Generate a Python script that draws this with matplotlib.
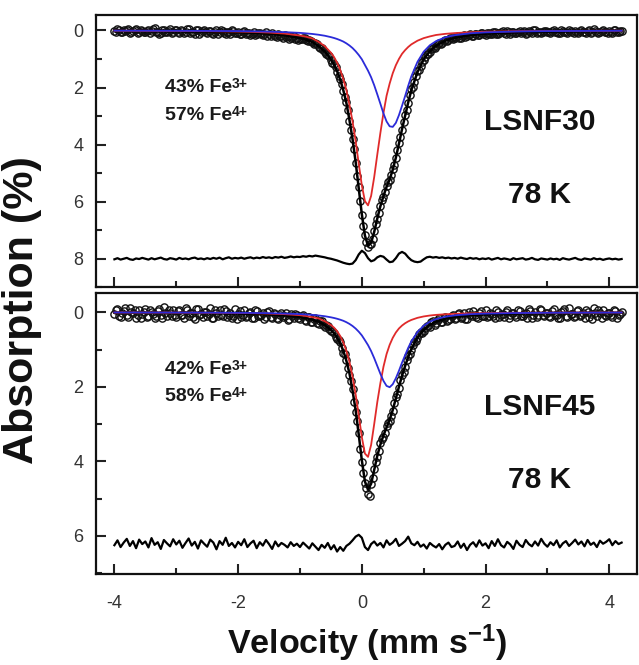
import matplotlib
matplotlib.use('Agg')
import matplotlib.pyplot as plt
import numpy as np
from matplotlib.ticker import MultipleLocator

plt.rcParams['font.family'] = ['Liberation Sans', 'DejaVu Sans']
plt.rcParams['mathtext.fontset'] = 'custom'
plt.rcParams['mathtext.rm'] = 'Liberation Sans:bold'
plt.rcParams['mathtext.it'] = 'Liberation Sans:bold'
plt.rcParams['mathtext.bf'] = 'Liberation Sans:bold'
plt.rcParams['axes.unicode_minus'] = False

# velocity channels of the measured spectra (mm/s): even channels and the ones in between
velocity = np.round(-4.0 + 0.05 * np.arange(165), 3)
velocity_mid = np.round(-3.975 + 0.05 * np.arange(164), 3)

# velocities at which the fitted curves were read
v_fit = [-4.0, -3.0, -2.5, -2.0, -1.75, -1.5, -1.25, -1.0, -0.9, -0.8, -0.7, -0.6, -0.5,
         -0.45, -0.4, -0.35, -0.3, -0.25, -0.2, -0.15, -0.1, -0.05, 0.0, 0.05, 0.1, 0.15,
         0.2, 0.25, 0.3, 0.35, 0.4, 0.45, 0.5, 0.55, 0.6, 0.65, 0.7, 0.75, 0.8, 0.9, 1.0,
         1.1, 1.2, 1.35, 1.5, 1.75, 2.0, 2.5, 3.0, 4.2]

# ---- LSNF30 ----
obs_30 = [0.02, -0.05, 0.06, 0.00, -0.03, 0.08, 0.03, -0.06, 0.04, 0.01,
          0.07, -0.02, 0.03, -0.07, 0.05, 0.10, -0.01, 0.04, -0.04, 0.06,
          -0.03, 0.09, 0.02, 0.06, -0.05, 0.04, 0.12, 0.00, 0.05, -0.02,
          0.08, 0.01, 0.11, -0.02, 0.06, 0.03, 0.13, 0.04, -0.01, 0.09,
          0.06, 0.12, 0.02, 0.09, 0.15, 0.05, 0.11, 0.08, 0.16, 0.07,
          0.14, 0.09, 0.18, 0.12, 0.21, 0.15, 0.19, 0.26, 0.20, 0.27,
          0.29, 0.26, 0.35, 0.33, 0.42, 0.45, 0.58, 0.61, 0.76, 0.85,
          1.04, 1.17, 1.46, 1.70, 2.12, 2.52, 3.16, 3.79, 4.64, 5.50,
          6.46, 7.16, 7.58, 7.47, 7.03, 6.61, 6.14, 5.83, 5.45, 5.25,
          4.85, 4.48, 3.94, 3.49, 2.96, 2.55, 2.07, 1.81, 1.43, 1.26,
          1.03, 0.84, 0.75, 0.60, 0.55, 0.44, 0.43, 0.33, 0.35, 0.26,
          0.28, 0.20, 0.25, 0.17, 0.21, 0.13, 0.19, 0.11, 0.16, 0.10,
          0.15, 0.08, 0.12, 0.04, 0.14, 0.07, 0.10, 0.02, 0.11, 0.06,
          0.09, 0.01, 0.07, 0.11, 0.03, 0.08, -0.01, 0.06, 0.10, 0.02,
          0.05, 0.09, -0.02, 0.04, 0.08, 0.01, 0.07, -0.03, 0.06, 0.03,
          0.08, -0.01, 0.05, 0.02, 0.09, -0.04, 0.04, 0.07, 0.00, 0.06,
          0.03, 0.08, -0.02, 0.05, 0.01]
obs_30_mid = [0.05, -0.02, 0.07, 0.01, -0.04, 0.06, 0.00, 0.09, -0.03, 0.04,
              0.02, 0.08, -0.05, 0.05, 0.11, -0.01, 0.07, 0.03, 0.09, -0.02,
              0.06, 0.00, 0.10, -0.04, 0.08, 0.05, -0.02, 0.11, 0.03, 0.07,
              0.02, 0.10, 0.05, 0.13, -0.01, 0.09, 0.06, 0.12, 0.03, 0.08,
              0.11, 0.05, 0.14, 0.08, 0.12, 0.17, 0.09, 0.14, 0.12, 0.18,
              0.19, 0.16, 0.22, 0.19, 0.25, 0.22, 0.29, 0.24, 0.31, 0.35,
              0.30, 0.28, 0.37, 0.36, 0.46, 0.49, 0.62, 0.67, 0.82, 0.91,
              1.13, 1.28, 1.60, 1.87, 2.34, 2.80, 3.50, 4.17, 5.10, 5.96,
              6.87, 7.43, 7.50, 7.30, 6.80, 6.40, 5.95, 5.66, 5.32, 5.08,
              4.71, 4.19, 3.75, 3.20, 2.79, 2.28, 1.97, 1.59, 1.37, 1.09,
              0.92, 0.83, 0.65, 0.61, 0.48, 0.47, 0.36, 0.37, 0.28, 0.30,
              0.22, 0.26, 0.18, 0.22, 0.15, 0.19, 0.13, 0.16, 0.09, 0.14,
              0.10, 0.13, 0.06, 0.11, 0.09, 0.03, 0.12, 0.07, 0.05, 0.10,
              0.04, 0.08, 0.02, 0.09, 0.06, 0.00, 0.08, 0.04, 0.07, 0.01,
              0.07, 0.02, 0.06, 0.10, 0.00, 0.05, 0.08, 0.02, 0.09, 0.04,
              0.01, 0.06, 0.09, -0.02, 0.07, 0.03, 0.08, 0.01, 0.05, 0.09,
              0.06, 0.00, 0.07, 0.03]
resid_30 = [8.02, 7.98, 8.03, 8.00, 7.97, 8.02, 8.04, 7.99, 8.01, 7.97,
            8.00, 8.03, 7.98, 8.02, 7.99, 7.96, 8.01, 8.03, 7.98, 8.00,
            8.03, 7.97, 8.01, 7.99, 8.02, 7.98, 7.96, 8.01, 7.99, 8.02,
            7.98, 8.01, 7.97, 8.00, 7.96, 8.02, 7.98, 7.95, 8.00, 7.97,
            7.99, 7.96, 8.00, 7.97, 7.95, 7.99, 7.96, 7.98, 7.94, 7.97,
            7.95, 7.98, 7.94, 7.96, 7.93, 7.97, 7.95, 7.92, 7.95, 7.93,
            7.94, 7.91, 7.93, 7.90, 7.92, 7.89, 7.91, 7.93, 7.95, 7.98,
            8.00, 8.03, 8.06, 8.10, 8.14, 8.17, 8.19, 8.17, 8.05, 7.85,
            7.72, 7.80, 7.98, 8.09, 8.05, 7.95, 7.90, 7.93, 8.03, 8.12,
            8.10, 7.98, 7.82, 7.76, 7.82, 7.95, 8.05, 8.10, 8.12, 8.10,
            8.02, 7.95, 7.93, 7.96, 7.94, 7.97, 7.95, 7.98, 7.96, 7.99,
            7.97, 8.00, 7.96, 7.99, 8.01, 7.97, 8.00, 7.98, 8.02, 7.99,
            8.01, 7.98, 8.03, 8.00, 7.97, 8.02, 7.99, 8.01, 8.04, 7.98,
            8.02, 8.00, 7.98, 8.03, 8.01, 7.97, 8.02, 8.04, 7.99, 8.01,
            8.03, 7.99, 8.02, 8.00, 8.04, 7.98, 8.01, 8.03, 8.00, 7.97,
            8.02, 8.04, 7.99, 8.01, 8.03, 7.98, 8.02, 8.00, 8.04, 8.01,
            7.99, 8.02, 8.00, 8.03, 8.01]
red_30 = [0.010, 0.018, 0.026, 0.039, 0.052, 0.074, 0.11, 0.18, 0.22, 0.28, 0.40, 0.55,
          0.78, 0.93, 1.13, 1.38, 1.70, 2.09, 2.61, 3.19, 3.88, 4.67, 5.43, 5.98, 6.13,
          5.80, 5.14, 4.35, 3.59, 2.89, 2.29, 1.86, 1.50, 1.22, 1.00, 0.82, 0.69, 0.58,
          0.49, 0.36, 0.27, 0.21, 0.16, 0.12, 0.094, 0.064, 0.046, 0.029, 0.020, 0.010]
blue_30 = [0.008, 0.013, 0.017, 0.025, 0.032, 0.043, 0.060, 0.086, 0.104, 0.124, 0.151,
           0.186, 0.235, 0.265, 0.30, 0.342, 0.39, 0.453, 0.528, 0.618, 0.73, 0.86, 1.01,
           1.21, 1.41, 1.64, 1.92, 2.24, 2.57, 2.91, 3.19, 3.36, 3.38, 3.24, 2.97, 2.64,
           2.30, 1.94, 1.61, 1.10, 0.745, 0.52, 0.375, 0.24, 0.167, 0.101, 0.068, 0.037,
           0.024, 0.011]
total_30 = [0.018, 0.031, 0.043, 0.064, 0.084, 0.117, 0.17, 0.266, 0.324, 0.404, 0.551,
            0.736, 1.015, 1.195, 1.43, 1.72, 2.09, 2.54, 3.14, 3.81, 4.61, 5.53, 6.44,
            7.19, 7.54, 7.44, 7.06, 6.59, 6.16, 5.80, 5.48, 5.22, 4.88, 4.46, 3.97, 3.46,
            2.99, 2.52, 2.10, 1.46, 1.015, 0.73, 0.535, 0.36, 0.261, 0.165, 0.114, 0.066,
            0.044, 0.021]

# ---- LSNF45 ----
obs_45 = [0.05, -0.10, 0.12, -0.03, 0.08, -0.12, 0.02, 0.14, -0.06, 0.04,
          -0.09, 0.11, 0.00, 0.16, -0.04, 0.07, -0.13, 0.09, 0.03, -0.07,
          0.13, -0.05, 0.06, -0.11, 0.10, 0.01, 0.17, -0.08, 0.05, -0.02,
          0.09, -0.12, 0.14, 0.02, -0.06, 0.11, -0.03, 0.07, 0.15, -0.09,
          0.04, 0.12, -0.07, 0.09, 0.00, 0.16, -0.04, 0.10, 0.03, 0.13,
          -0.03, 0.14, 0.05, 0.18, 0.01, 0.11, 0.20, 0.04, 0.15, 0.08,
          0.17, 0.06, 0.22, 0.13, 0.26, 0.15, 0.31, 0.24, 0.40, 0.36,
          0.50, 0.55, 0.72, 0.80, 1.08, 1.27, 1.69, 2.06, 2.68, 3.25,
          4.01, 4.58, 4.88, 4.62, 4.20, 3.88, 3.52, 3.34, 3.06, 2.91,
          2.65, 2.28, 2.03, 1.68, 1.47, 1.17, 1.02, 0.80, 0.70, 0.54,
          0.51, 0.36, 0.39, 0.24, 0.30, 0.16, 0.25, 0.12, 0.21, 0.09,
          0.18, 0.05, 0.15, 0.02, 0.19, 0.08, -0.04, 0.13, 0.03, 0.11,
          -0.06, 0.10, 0.04, 0.16, -0.02, 0.08, 0.13, -0.07, 0.06, 0.01,
          0.12, -0.04, 0.09, 0.03, -0.10, 0.14, 0.00, 0.07, -0.05, 0.11,
          0.02, 0.13, -0.08, 0.06, 0.15, -0.03, 0.09, -0.11, 0.04, 0.10,
          -0.05, 0.08, 0.14, -0.02, 0.05, -0.12, 0.11, 0.03, -0.07, 0.09,
          0.01, 0.12, -0.04, 0.07, -0.01]
obs_45_mid = [-0.06, 0.09, 0.03, -0.11, 0.13, 0.00, -0.07, 0.08, 0.15, -0.02,
              0.12, -0.06, 0.05, 0.10, -0.10, 0.14, 0.02, -0.05, 0.11, 0.06,
              -0.03, 0.08, 0.16, -0.07, 0.03, 0.12, -0.10, 0.06, 0.13, 0.00,
              0.05, 0.15, -0.05, 0.10, 0.07, -0.08, 0.12, 0.01, 0.09, 0.17,
              -0.04, 0.08, 0.13, 0.02, 0.14, -0.05, 0.11, 0.06, 0.17, 0.00,
              0.12, 0.03, 0.16, 0.07, 0.13, 0.02, 0.18, 0.09, 0.05, 0.16,
              0.09, 0.21, 0.12, 0.25, 0.17, 0.28, 0.22, 0.35, 0.33, 0.46,
              0.49, 0.66, 0.73, 0.97, 1.13, 1.50, 1.84, 2.40, 2.92, 3.66,
              4.30, 4.72, 4.93, 4.45, 4.01, 3.73, 3.40, 3.23, 2.96, 2.78,
              2.44, 2.19, 1.82, 1.60, 1.29, 1.12, 0.88, 0.78, 0.59, 0.55,
              0.41, 0.38, 0.27, 0.33, 0.20, 0.27, 0.14, 0.22, 0.18, 0.07,
              0.15, 0.02, 0.12, 0.17, -0.01, 0.10, 0.06, 0.14, -0.03, 0.09,
              0.13, 0.02, 0.10, -0.05, 0.12, 0.05, -0.02, 0.15, 0.03, 0.08,
              -0.07, 0.10, 0.05, 0.15, -0.03, 0.06, 0.12, -0.09, 0.08, 0.02,
              0.11, -0.04, 0.07, 0.16, 0.00, -0.09, 0.12, 0.05, 0.13, -0.04,
              0.10, 0.03, -0.06, 0.12, 0.18, 0.01, -0.05, 0.14, 0.06, 0.02,
              0.08, -0.06, 0.15, 0.04]
resid_45 = [6.25, 6.12, 6.30, 6.18, 6.08, 6.27, 6.14, 6.33, 6.10, 6.22,
            6.15, 6.31, 6.06, 6.24, 6.17, 6.35, 6.11, 6.20, 6.28, 6.09,
            6.23, 6.13, 6.32, 6.19, 6.07, 6.26, 6.16, 6.34, 6.12, 6.21,
            6.29, 6.10, 6.18, 6.36, 6.14, 6.24, 6.05, 6.27, 6.19, 6.31,
            6.16, 6.25, 6.09, 6.30, 6.20, 6.13, 6.33, 6.17, 6.26, 6.11,
            6.22, 6.35, 6.15, 6.28, 6.19, 6.24, 6.31, 6.17, 6.27, 6.21,
            6.30, 6.18, 6.26, 6.34, 6.20, 6.29, 6.38, 6.24, 6.32, 6.19,
            6.36, 6.25, 6.42, 6.30, 6.40, 6.27, 6.21, 6.12, 6.02, 5.97,
            6.05, 6.30, 6.38, 6.22, 6.15, 6.26, 6.19, 6.31, 6.12, 6.24,
            6.18, 6.08, 6.27, 6.21, 6.14, 6.02, 6.20, 6.25, 6.16, 6.29,
            6.23, 6.34, 6.19, 6.26, 6.31, 6.22, 6.36, 6.24, 6.18, 6.30,
            6.27, 6.15, 6.32, 6.21, 6.38, 6.24, 6.17, 6.29, 6.12, 6.26,
            6.20, 6.33, 6.14, 6.27, 6.09, 6.25, 6.31, 6.16, 6.23, 6.35,
            6.13, 6.24, 6.30, 6.11, 6.22, 6.28, 6.15, 6.26, 6.08, 6.21,
            6.29, 6.17, 6.25, 6.12, 6.31, 6.20, 6.14, 6.27, 6.19, 6.10,
            6.23, 6.15, 6.28, 6.11, 6.24, 6.18, 6.30, 6.13, 6.21, 6.16,
            6.09, 6.25, 6.14, 6.22, 6.18]
red_45 = [0.005, 0.008, 0.012, 0.018, 0.023, 0.033, 0.049, 0.077, 0.10, 0.131, 0.163,
          0.238, 0.34, 0.41, 0.505, 0.634, 0.805, 1.035, 1.33, 1.73, 2.20, 2.76, 3.35,
          3.79, 3.88, 3.56, 3.00, 2.41, 1.90, 1.46, 1.12, 0.873, 0.685, 0.542, 0.434,
          0.355, 0.293, 0.244, 0.205, 0.148, 0.111, 0.086, 0.069, 0.052, 0.040, 0.028,
          0.021, 0.013, 0.009, 0.005]
blue_45 = [0.004, 0.007, 0.009, 0.0135, 0.017, 0.023, 0.033, 0.048, 0.058, 0.069, 0.085,
           0.105, 0.134, 0.152, 0.173, 0.198, 0.227, 0.265, 0.311, 0.367, 0.436, 0.52,
           0.619, 0.747, 0.88, 1.04, 1.23, 1.44, 1.65, 1.84, 1.975, 2.01, 1.93, 1.77, 1.57,
           1.35, 1.15, 0.953, 0.783, 0.528, 0.359, 0.251, 0.182, 0.118, 0.082, 0.050,
           0.034, 0.019, 0.012, 0.006]
total_45 = [0.009, 0.015, 0.021, 0.032, 0.040, 0.056, 0.082, 0.125, 0.158, 0.20, 0.248,
            0.343, 0.474, 0.562, 0.678, 0.832, 1.03, 1.30, 1.64, 2.10, 2.63, 3.28, 3.97,
            4.54, 4.76, 4.60, 4.23, 3.85, 3.55, 3.30, 3.09, 2.88, 2.62, 2.31, 2.00, 1.70,
            1.44, 1.20, 0.988, 0.676, 0.47, 0.337, 0.251, 0.17, 0.122, 0.078, 0.055, 0.032,
            0.021, 0.011]

panels = [
    dict(obs=obs_30, obs_mid=obs_30_mid, resid=resid_30, red=red_30, blue=blue_30,
         total=total_30, ylim=(9.0, -0.53), yticks=[0, 2, 4, 6, 8], name='LSNF30',
         fe=[('43% Fe', '3+'), ('57% Fe', '4+')], y_fe=(2.0, 2.98), y_name=(3.21, 5.78)),
    dict(obs=obs_45, obs_mid=obs_45_mid, resid=resid_45, red=red_45, blue=blue_45,
         total=total_45, ylim=(7.02, -0.52), yticks=[0, 2, 4, 6], name='LSNF45',
         fe=[('42% Fe', '3+'), ('58% Fe', '4+')], y_fe=(1.53, 2.25), y_name=(2.53, 4.50)),
]

fig = plt.figure(figsize=(6.39, 6.65), dpi=100)
ax_top = fig.add_axes([0.150, 0.568, 0.847, 0.409])
ax_bot = fig.add_axes([0.150, 0.137, 0.847, 0.4225])

marker_style = dict(linestyle='none', marker='o', markersize=5.2, markerfacecolor='none',
                    markeredgecolor='#111111', markeredgewidth=1.0, zorder=2)

fe_texts = []
for ax, p in zip([ax_top, ax_bot], panels):
    ax.plot(velocity, p['obs'], **marker_style)
    ax.plot(velocity_mid, p['obs_mid'], **marker_style)
    ax.plot(v_fit, p['total'], color='black', lw=1.8, zorder=3)
    ax.plot(v_fit, p['red'], color='#e02a2a', lw=1.3, zorder=4)
    ax.plot(v_fit, p['blue'], color='#2b2bd9', lw=1.3, zorder=5)
    ax.plot(velocity, p['resid'], color='black', lw=1.6, zorder=3)

    ax.set_xlim(-4.30, 4.45)
    ax.set_ylim(*p['ylim'])
    ax.set_yticks(p['yticks'])
    ax.yaxis.set_minor_locator(MultipleLocator(1))
    ax.xaxis.set_major_locator(MultipleLocator(2))
    ax.xaxis.set_minor_locator(MultipleLocator(1))
    ax.tick_params(which='both', direction='in', top=False, right=False, width=1.5,
                   colors='#222222', labelcolor='#333333', labelsize=13)
    ax.tick_params(which='major', length=7)
    ax.tick_params(which='minor', length=4)
    ax.tick_params(axis='y', pad=9)
    ax.tick_params(axis='x', pad=15)
    for s in ax.spines.values():
        s.set_linewidth(1.6)
        s.set_color('#111111')

    for (main, sup), yy in zip(p['fe'], p['y_fe']):
        t = ax.text(-3.19, yy, main, fontsize=14, fontweight='bold',
                    color='#1a1a1a', ha='left', va='center')
        fe_texts.append((t, sup))
    ax.text(2.88, p['y_name'][0], p['name'], fontsize=21.5, fontweight='bold',
            color='#111111', ha='center', va='center')
    ax.text(2.88, p['y_name'][1], '78 K', fontsize=21.5, fontweight='bold',
            color='#111111', ha='center', va='center')

ax_top.tick_params(axis='x', labelbottom=False)

fig.text(0.034, 0.534, 'Absorption (%)', rotation=90, fontsize=31, fontweight='bold',
         ha='center', va='center', color='#111111')
fig.text(0.574, 0.033, 'Velocity (mm s$^{-1}$)', fontsize=24.5, fontweight='bold',
         ha='center', va='center', color='#111111')

# superscript charges placed right after the "Fe" labels
fig.canvas.draw()
renderer = fig.canvas.get_renderer()
for t, sup in fe_texts:
    bb = t.get_window_extent(renderer)
    fig.text((bb.x1 + 0.5) / fig.bbox.width, (bb.y1 - 5) / fig.bbox.height, sup,
             fontsize=10, fontweight='bold', color='#1a1a1a', ha='left', va='center')

fig.savefig('out.png', dpi=100)
